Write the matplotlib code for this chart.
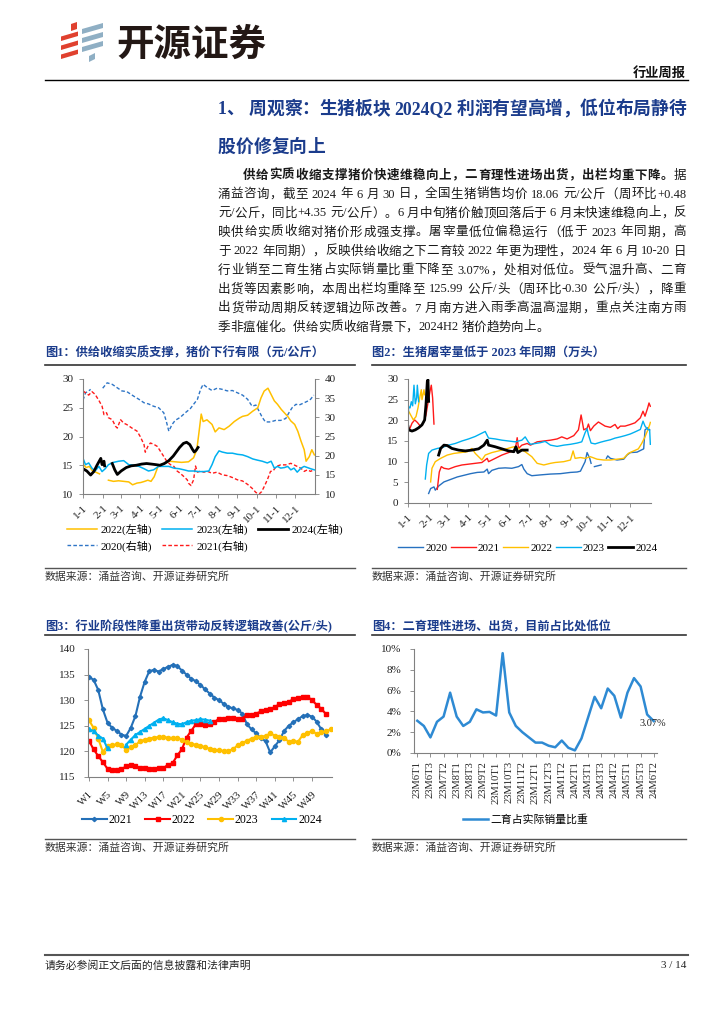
import numpy as np
import matplotlib
matplotlib.use('Agg')
import matplotlib.pyplot as plt
from matplotlib.lines import Line2D
from matplotlib.patches import Polygon
from matplotlib.ticker import FuncFormatter

CJK = ['Liberation Serif', 'Noto Sans CJK SC']
plt.rcParams['font.family'] = CJK
plt.rcParams['axes.unicode_minus'] = False
nan = np.nan

NAVY = '#1B3C8C'
W, H = 724, 1024

# ---------------- data ----------------
months = ['1-1', '2-1', '3-1', '4-1', '5-1', '6-1', '7-1', '8-1', '9-1', '10-1', '11-1', '12-1']
month_start = [0, 31, 59, 90, 120, 151, 181, 212, 243, 273, 304, 334]

# fig1: pig price (yuan/kg), 2022-2024 left axis, 2020-2021 right axis
p2024_day = [0, 6, 12, 17, 22, 28, 30, 33, 34, 40, 46, 50, 54, 60, 68, 76, 84, 92, 100, 108,
             115, 121, 128, 135, 142, 148, 152, 158, 163, 168, 172, 175, 178, 181]
p2024_val = [14.4, 14.0, 13.3, 13.9, 15.0, 16.2, 15.1, 15.7, 14.9, nan, 15.3, 14.2, 13.4, 14.0, 14.6, 14.9, 15.0, 15.2, 15.3, 15.2,
             15.1, 15.0, 15.3, 15.8, 16.6, 17.5, 18.1, 18.8, 19.0, 18.6, 17.8, 17.3, 17.6, 18.1]
p2022_day = [0, 5, 10, 15, 20, 26, 33, 40, 48, 56, 64, 72, 78, 85, 91, 97, 102, 107, 112, 118,
             124, 130, 136, 145, 155, 166, 174, 179, 182, 186, 189, 195, 203, 208, 214, 222, 230, 238, 246, 251,
             259, 267, 275, 280, 285, 291, 296, 301, 306, 312, 317, 322, 327, 333, 338, 343, 348, 351, 356, 360, 364]
p2022_val = [15.2, 14.6, 14.8, 14.0, 13.8, 13.5, nan, 12.4, 12.2, 12.3, 12.2, 12.1, 11.6, 11.9, 12.0, 12.2, 12.4, 12.2, 13.0, 14.8,
             15.2, 15.4, 15.7, 15.6, 15.5, 15.6, 16.3, 17.7, 20.3, 23.9, 22.6, 22.9, 22.1, 20.8, 21.5, 21.2, 21.8, 22.6, 23.2, 23.5,
             23.7, 24.4, 25.0, 26.7, 27.9, 28.4, 27.3, 26.2, 25.6, 24.7, 24.1, 23.5, 22.7, 22.1, 20.9, 19.2, 17.7, 15.7, 16.5, 17.7, 16.8]
p2023_day = [0, 4, 9, 14, 19, 25, 30, 35, 40, 48, 56, 64, 72, 80, 88, 96, 103, 111, 119, 127,
             135, 143, 151, 159, 166, 174, 182, 190, 198, 203, 208, 214, 219, 227, 235, 243, 251, 259, 267, 274,
             282, 290, 296, 301, 306, 311, 317, 322, 327, 332, 337, 343, 348, 353, 358, 364]
p2023_val = [16.2, 15.1, 15.4, 14.5, 14.0, 14.8, 13.9, 14.4, 15.1, 15.5, 15.7, 15.8, 15.1, 15.0, 14.8, 14.4, 14.0, 14.2, 14.8, 14.8,
             14.8, 14.5, 14.4, 14.2, 14.0, 14.0, 13.9, 13.9, 14.0, 15.1, 16.5, 17.5, 17.3, 17.1, 17.1, 16.9, 16.8, 16.5, 16.1, 15.9,
             15.7, 15.4, 15.7, 14.5, 14.8, 14.5, 14.6, 14.8, 14.2, 14.5, 13.8, 14.5, 14.8, 14.6, 14.4, 14.2]
p2020_day = [0, 4, 9, 12, 20, 31, 38, 46, 54, 61, 69, 80, 88, 96, 103, 111, 119, 127, 131, 135,
             140, 145, 153, 161, 169, 174, 180, 185, 189, 196, 203, 211, 219, 227, 235, 243, 251, 259, 266, 272,
             277, 282, 287, 295, 303, 311, 319, 324, 329, 335, 340, 348, 353, 358, 363]
p2020_val = [34.5, 36.4, 36.9, 37.3, nan, 37.6, 39.0, 38.6, 37.7, 36.9, 36.7, 35.5, 34.7, 33.8, 33.5, 32.9, 32.5, 31.2, 29.0, 26.4,
             28.1, 29.2, 30.0, 31.2, 32.3, 33.4, 34.7, 37.3, 38.6, 37.7, 37.0, 37.6, 37.3, 36.9, 37.0, 36.4, 35.8, 34.7, 32.9, 33.2,
             31.6, 30.0, 28.8, 28.8, 29.2, 29.2, 29.7, 31.2, 32.5, 33.4, 33.2, 33.8, 34.2, 34.7, 35.8]
p2021_day = [0, 4, 9, 14, 19, 25, 30, 33, 37, 40, 46, 51, 54, 59, 64, 69, 77, 85, 90, 96,
             98, 102, 106, 111, 117, 122, 127, 132, 138, 143, 148, 153, 159, 164, 166, 170, 174, 177, 180, 185,
             190, 196, 203, 211, 219, 227, 235, 243, 251, 259, 266, 272, 277, 281, 285, 290, 295, 299, 304, 311,
             319, 327, 332, 337, 343, 348, 353, 358, 363]
p2021_val = [36.9, 36.4, 35.8, 36.7, 36.0, 34.4, 32.9, 30.7, 31.2, 29.9, 29.4, 27.7, 27.2, 29.4, 28.5, 28.1, 27.2, 26.4, 25.0, 22.9,
             20.9, 22.4, 23.3, 23.0, 22.4, 21.1, 19.8, 18.5, 17.6, 17.2, 16.0, 15.4, 14.5, 13.7, 12.8, 12.2, 13.7, 17.3, 15.7, 16.0,
             15.7, 15.9, 15.4, 15.7, 15.0, 14.8, 14.3, 13.7, 13.4, 12.5, 11.5, 10.4, 10.0, 10.6, 11.9, 13.7, 15.9, 16.0, 17.2, 17.6,
             17.6, 18.0, 17.6, 17.2, 16.7, 15.9, 16.3, 15.9, 16.3]

# fig2: daily slaughter (10k head)
s2020_day = [31, 34, 39, 41, 46, 54, 64, 74, 84, 94, 104, 114, 119, 121, 126, 136, 146, 156, 166, 171,
             174, 179, 186, 199, 214, 229, 244, 254, 259, 266, 269, 273, 275, 277, 280, 290, 294, 298, 300, 304,
             314, 324, 329, 334, 344, 349, 354, 356, 360, 363]
s2020_val = [2.3, 3.5, 3.9, 3.1, 4.1, 5.1, 5.7, 6.3, 6.7, 7.1, 7.4, 7.5, 8.2, 7.1, 7.9, 8.4, 8.5, 8.4, 8.8, 9.3,
             8.2, 7.1, 6.6, 6.8, 7.0, 7.1, 7.4, 7.5, 7.7, 10.0, 12.2, 10.8, 9.6, nan, 8.8, 9.2, nan, 10.8, 11.4, 10.8,
             10.4, 10.6, 11.6, 12.2, 12.3, 12.7, 13.1, 17.7, 18.2, 17.7]
s2021_day = [0, 2, 6, 10, 14, 19, 24, 27, 30, 33, 35, 37, 39, 41, 44, 47, 50, 54, 61, 71,
             81, 91, 101, 111, 119, 121, 131, 141, 151, 161, 164, 166, 171, 179, 184, 194, 204, 214, 224, 231,
             239, 249, 256, 260, 264, 269, 271, 274, 279, 286, 291, 296, 304, 311, 315, 319, 326, 334, 341, 349,
             353, 356, 360, 362, 364]
s2021_val = [18.5, 17.7, 19.3, 20.1, 19.5, 18.5, 19.7, 21.3, 24.2, 27.0, 28.5, 25.4, 19.1, nan, 3.3, 7.5, 8.8, 8.4, 8.2, 8.8,
             9.2, 9.4, 9.6, 9.8, 10.8, 10.0, 10.8, 11.6, 12.2, 12.8, 15.8, 13.2, 14.0, 14.4, 14.0, 14.8, 15.0, 15.2, 15.5, 16.0,
             15.5, 16.3, 17.7, 21.3, 17.7, 18.1, 19.1, 17.5, 18.6, 19.6, 19.1, 18.6, 18.3, 19.0, 18.0, 18.6, 18.6, 19.0, 19.4, 20.6,
             22.2, 21.0, 23.0, 24.2, 23.4]
s2022_day = [0, 4, 8, 12, 15, 18, 20, 21, 24, 25, 29, 34, 36, 41, 49, 59, 69, 79, 89, 96,
             101, 111, 116, 126, 136, 146, 154, 159, 166, 176, 186, 194, 204, 214, 221, 234, 244, 248, 251, 259,
             266, 274, 284, 294, 304, 314, 324, 331, 339, 346, 351, 356, 360, 363, 364]
s2022_val = [22.5, 21.3, 20.1, 20.9, 23.0, 25.8, 27.4, 25.0, 27.4, 26.2, nan, 5.1, 8.4, 10.0, 10.8, 11.6, 12.0, 12.2, 12.4, 13.2,
             12.0, 10.4, 11.6, 12.2, 12.6, 13.0, 13.4, 13.6, 13.2, 12.4, 11.2, 9.6, 9.2, 9.6, 9.8, 10.0, 10.4, 12.6, 10.8, 11.0,
             10.8, 11.2, 10.6, 10.4, 10.4, 10.6, 10.8, 12.0, 12.6, 13.1, 14.4, 16.0, 17.6, 18.9, 19.5]
s2023_day = [0, 1, 3, 5, 7, 9, 11, 13, 14, 16, 20, 26, 28, 31, 36, 44, 51, 61, 71, 81,
             91, 101, 111, 116, 121, 131, 141, 151, 161, 171, 176, 181, 184, 199, 206, 214, 224, 234, 244, 254,
             261, 266, 269, 271, 275, 281, 289, 296, 304, 311, 319, 326, 334, 341, 349, 353, 356, 360, 363, 364]
s2023_val = [19.5, 23.3, 23.0, 24.5, 23.5, 28.5, 24.0, 25.5, 28.5, 24.5, nan, 5.8, 9.2, 12.0, 12.8, 13.2, 13.4, 14.0, 14.4, 15.0,
             15.5, 16.1, 16.9, 17.3, 15.7, 15.5, 15.2, 15.0, 14.8, 15.2, 16.0, 14.7, 14.2, 14.6, 14.9, 14.0, 13.7, 14.0, 14.2, 14.5,
             14.8, 17.0, 18.0, 16.5, 14.5, 14.3, 14.7, 15.0, 15.3, 15.7, 16.0, 16.3, 16.7, 17.2, 17.8, 19.8, 18.6, 17.8, 17.6, 14.2]
s2024_day = [0, 1, 6, 11, 16, 21, 25, 27, 29, 30, 31, 38, 46, 49, 54, 59, 66, 76, 86, 96,
             106, 114, 119, 121, 131, 141, 151, 159, 162, 165, 171, 179]
s2024_val = [18.5, 17.7, 17.4, 17.7, 18.2, 18.9, 20.1, 23.8, 29.4, 29.8, 24.6, nan, 11.6, 13.2, 14.0, 13.9, 13.2, 12.8, 12.6, 12.8,
             13.1, 14.0, 15.2, 14.0, 13.6, 13.1, 12.6, 12.4, 13.6, 12.2, 12.8, 12.8]

# fig3: weekly average slaughter weight (kg/head)
weeks = ['W%d' % i for i in range(1, 54)]
w2021 = [134.5, 134.0, 132.0, 128.2, 125.6, 124.6, 124.0, 123.3, 123.0, 124.6,
         126.9, 130.7, 133.6, 135.7, 135.9, 135.6, 136.1, 136.5, 136.9, 136.7,
         135.8, 135.0, 134.2, 133.7, 133.0, 132.1, 131.3, 130.5, 130.0, 129.3,
         128.7, 128.4, 128.1, 127.4, 125.3, 124.3, 123.5, 122.6, 122.0, 119.8,
         121.0, 122.2, 124.0, 125.0, 125.7, 126.3, 126.9, 127.1, 126.8, 125.8,
         124.3, 123.2]
w2022 = [122.1, 120.4, 119.1, 117.9, 116.6, 116.3, 116.3, 116.5, 117.1, 117.3,
         117.1, 116.8, 116.7, 116.6, 116.6, 116.8, 116.7, 117.4, 117.7, 119.2,
         120.4, 122.7, 124.0, 125.3, 125.3, 125.2, 125.3, 125.7, 126.4, 126.4,
         126.6, 126.5, 126.3, 126.4, 127.2, 127.2, 127.4, 127.8, 128.0, 128.2,
         128.7, 129.2, 129.4, 129.7, 130.2, 130.4, 130.6, 130.7, 130.0, 129.1,
         128.3, 127.3]
w2023 = [126.1, 124.6, 122.5, 119.9, 121.0, 121.2, 121.4, 121.3, 120.3, 120.8,
         121.2, 122.0, 122.3, 122.5, 122.7, 122.8, 122.8, 122.7, 122.6, 122.6,
         122.3, 121.8, 121.5, 121.3, 121.1, 120.8, 120.5, 120.3, 120.2, 120.1,
         120.1, 120.4, 121.2, 121.6, 122.1, 122.5, 122.8, 122.9, 123.0, 123.5,
         123.1, 122.9, 122.6, 121.9, 122.0, 121.9, 123.2, 123.6, 124.0, 123.4,
         123.7, 123.9, 124.3]
w2024 = [124.3, 124.0, 123.1, 122.5, 120.6, nan, nan, nan, 121.3, 122.3,
         123.2, 123.8, 124.4, 125.0, 125.6, 126.2, 126.5, 126.1, 125.7, 125.4,
         125.3, 125.7, 126.0, 126.1, 126.3, 126.2, 126.0]

# fig4: share of secondary-fattening pigs in actual sales (%)
periods = ['23M6T1', '23M6T2', '23M6T3', '23M7T1', '23M7T2', '23M7T3', '23M8T1', '23M8T2', '23M8T3',
           '23M9T1', '23M9T2', '23M9T3', '23M10T1', '23M10T2', '23M10T3', '23M11T1', '23M11T2', '23M11T3',
           '23M12T1', '23M12T2', '23M12T3', '24M1T1', '24M1T2', '24M1T3', '24M2T1', '24M2T3', '24M3T1',
           '24M3T2', '24M3T3', '24M4T1', '24M4T2', '24M4T3', '24M5T1', '24M5T2', '24M5T3', '24M6T1', '24M6T2']
share = [3.1, 2.6, 1.5, 3.0, 3.5, 5.8, 3.5, 2.6, 3.0, 4.2,
         3.9, 3.95, 3.6, 9.6, 3.9, 2.6, 2.0, 1.5, 1.0, 1.0,
         0.7, 0.55, 1.2, 0.5, 0.25, 1.4, 3.4, 5.4, 4.3, 6.2,
         5.5, 3.4, 5.8, 7.2, 6.4, 3.7, 3.07]

body = [
    [('供给实质收缩支撑猪价快速维稳向上，二育理性进场出货，出栏均重下降。', 'bold'), ('据', 'normal')],
    [('涌益咨询，截至 2024 年 6 月 30 日，全国生猪销售均价 18.06 元/公斤（周环比+0.48', 'normal')],
    [('元/公斤，同比+4.35 元/公斤）。6 月中旬猪价触顶回落后于 6 月末快速维稳向上，反', 'normal')],
    [('映供给实质收缩对猪价形成强支撑。屠宰量低位偏稳运行（低于 2023 年同期，高', 'normal')],
    [('于 2022 年同期），反映供给收缩之下二育较 2022 年更为理性，2024 年 6 月 10-20 日', 'normal')],
    [('行业销至二育生猪占实际销量比重下降至 3.07%，处相对低位。受气温升高、二育', 'normal')],
    [('出货等因素影响，本周出栏均重降至 125.99 公斤/头（周环比-0.30 公斤/头），降重', 'normal')],
    [('出货带动周期反转逻辑边际改善。7 月南方进入雨季高温高湿期，重点关注南方雨', 'normal')],
    [('季非瘟催化。供给实质收缩背景下，2024H2 猪价趋势向上。', 'normal')],
]

# ---------------- page ----------------
fig = plt.figure(figsize=(7.24, 10.24), dpi=100)
renderer = fig.canvas.get_renderer()


def fx(px):
    return px / W


def fy(py):
    return 1 - py / H


def hline(y, x0, x1, color='#333333', lw=1.0):
    fig.add_artist(Line2D([fx(x0), fx(x1)], [fy(y), fy(y)], transform=fig.transFigure, color=color, lw=lw))


def text_line(yb, parts, x0, x1, size, color, justify=True):
    toks = []
    for s, wgt in parts:
        buf = ''
        for ch in s:
            if ch == ' ' or ord(ch) >= 128:
                if buf:
                    toks.append((buf, wgt))
                    buf = ''
                toks.append((ch, wgt))
            else:
                buf += ch
        if buf:
            toks.append((buf, wgt))
    widths = []
    for t, wgt in toks:
        if t == ' ':
            widths.append(size * 100 / 72 * 0.25)
        else:
            tt = fig.text(0, 0, t, fontsize=size, weight=wgt, family=CJK)
            widths.append(tt.get_window_extent(renderer).width)
            tt.remove()
    gap = 0
    if justify and len(toks) > 1:
        gap = (x1 - x0 - sum(widths)) / (len(toks) - 1)
    x = x0
    for (t, wgt), wd in zip(toks, widths):
        if t != ' ':
            fig.text(fx(x), fy(yb), t, fontsize=size, weight=wgt, family=CJK, color=color,
                     ha='left', va='baseline')
        x += wd + gap


def para(x0, y0, w, h, rise, color):
    pts = [(x0, y0), (x0 + w, y0 - rise), (x0 + w, y0 - rise - h), (x0, y0 - h)]
    fig.add_artist(Polygon([(fx(a), fy(b)) for a, b in pts], closed=True, transform=fig.transFigure,
                           facecolor=color, edgecolor='none'))


# logo
for yb in [41, 50, 59]:
    para(61, yb, 17, 4.5, 5, '#E0412F')
para(71, 31, 6, 7, 2, '#E0412F')
for yb in [34, 43, 52]:
    para(82, yb, 21, 5, 6, '#8FAFC4')
para(89, 62, 6, 6, 3, '#8FAFC4')
fig.text(fx(116), fy(44), '开源证券', fontsize=27, weight='bold', family=['Noto Sans CJK SC'],
         color='#231815', va='center', ha='left')
fig.text(fx(686), fy(73), '行业周报', fontsize=9.5, weight='bold', family=['Noto Sans CJK SC'],
         color='#111111', va='center', ha='right')
hline(80, 45, 688, color='#000000', lw=1.0)

# heading
text_line(114, [('1、 周观察：生猪板块 2024Q2 利润有望高增，低位布局静待', 'bold')], 218, 686, 12.8, NAVY)
text_line(152, [('股价修复向上', 'bold')], 218, 686, 12.8, NAVY, justify=False)

# body
for i, parts in enumerate(body):
    yb = 178.5 + 19 * i
    x0 = 243 if i == 0 else 218
    text_line(yb, parts, x0, 686, 9.0, '#1a1a1a', justify=(i < len(body) - 1))

# chart frames
titles = [('图1：供给收缩实质支撑，猪价下行有限（元/公斤）', 45, 353),
          ('图2：生猪屠宰量低于 2023 年同期（万头）', 372, 353),
          ('图3：行业阶段性降重出货带动反转逻辑改善(公斤/头)', 45, 627),
          ('图4：二育理性进场、出货，目前占比处低位', 372, 627)]
for t, x, y in titles:
    fig.text(fx(x), fy(y), t, fontsize=8.8, weight='bold', family=CJK, color=NAVY, va='center', ha='left')
for y in [365, 635]:
    hline(y, 45, 355, '#333333', 1.2)
    hline(y, 372, 686, '#333333', 1.2)
for y in [568, 839]:
    hline(y, 45, 355, '#555555', 1.0)
    hline(y, 372, 686, '#555555', 1.0)
for x, y in [(45, 577), (372, 577), (45, 848), (372, 848)]:
    fig.text(fx(x), fy(y), '数据来源：涌益咨询、开源证券研究所', fontsize=7.8, family=CJK,
             color='#333333', va='center', ha='left')

# footer
hline(955, 45, 688, '#555555', 1.5)
fig.text(fx(45), fy(966), '请务必参阅正文后面的信息披露和法律声明', fontsize=7.8, family=CJK,
         color='#222222', va='center', ha='left')
fig.text(fx(686), fy(966), '3 / 14', fontsize=8, family=CJK, color='#222222', va='center', ha='right')


def axrect(l, t, r, b):
    return [fx(l), fy(b), (r - l) / W, (b - t) / H]


def style(ax, labelsize=8, pad=4):
    for s in ['top', 'right']:
        ax.spines[s].set_visible(False)
    for s in ['left', 'bottom']:
        ax.spines[s].set_color('#808080')
        ax.spines[s].set_linewidth(0.8)
    ax.tick_params(direction='out', length=3, width=0.6, color='#808080', labelsize=labelsize,
                   pad=pad, labelcolor='#222222')
    ax.patch.set_visible(False)


# ---- chart 1 ----
ax1 = fig.add_axes(axrect(83, 379, 315, 494))
ax1r = ax1.twinx()
style(ax1)
style(ax1r)
ax1r.spines['right'].set_visible(True)
ax1r.spines['right'].set_color('#808080')
ax1r.spines['right'].set_linewidth(0.8)
ax1r.spines['left'].set_visible(False)
ax1r.spines['bottom'].set_visible(False)
ax1.set_zorder(ax1r.get_zorder() + 1)

dash = (0, (2.6, 1.6))
h20, = ax1r.plot(p2020_day, p2020_val, color='#2E75C6', lw=1.0, ls=dash)
h21, = ax1r.plot(p2021_day, p2021_val, color='#FF1A1A', lw=1.0, ls=dash)
h22, = ax1.plot(p2022_day, p2022_val, color='#FFC000', lw=1.1)
h23, = ax1.plot(p2023_day, p2023_val, color='#00B0F0', lw=1.1)
h24, = ax1.plot(p2024_day, p2024_val, color='black', lw=2.0)
ax1.set_xlim(0, 365)
ax1.set_ylim(10, 30)
ax1.set_yticks([10, 15, 20, 25, 30])
ax1r.set_ylim(10, 40)
ax1r.set_yticks([10, 15, 20, 25, 30, 35, 40])
ax1.set_xticks(month_start)
ax1.set_xticklabels(months, rotation=45, ha='right', va='top', rotation_mode='anchor')
fig.legend([h22, h20, h23, h21, h24], ['2022(左轴)', '2020(右轴)', '2023(左轴)', '2021(右轴)', '2024(左轴)'],
           loc='upper left', bbox_to_anchor=(fx(67), fy(524)), bbox_transform=fig.transFigure,
           ncol=3, frameon=False, fontsize=8, handlelength=2.7, handletextpad=0.35,
           columnspacing=0.9, labelspacing=0.45, borderpad=0, borderaxespad=0)

# ---- chart 2 ----
ax2 = fig.add_axes(axrect(408, 379, 651, 503))
style(ax2)
g20, = ax2.plot(s2020_day, s2020_val, color='#2771C0', lw=1.0)
g21, = ax2.plot(s2021_day, s2021_val, color='#FF1A1A', lw=1.0)
g22, = ax2.plot(s2022_day, s2022_val, color='#FFC000', lw=1.0)
g23, = ax2.plot(s2023_day, s2023_val, color='#00B0F0', lw=1.0)
g24, = ax2.plot(s2024_day, s2024_val, color='black', lw=2.0)
ax2.set_xlim(0, 365)
ax2.set_ylim(0, 30)
ax2.set_yticks([0, 5, 10, 15, 20, 25, 30])
ax2.set_xticks(month_start)
ax2.set_xticklabels(months, rotation=45, ha='right', va='top', rotation_mode='anchor')
fig.legend([g20, g21, g22, g23, g24], ['2020', '2021', '2022', '2023', '2024'],
           loc='upper left', bbox_to_anchor=(fx(398), fy(543)), bbox_transform=fig.transFigure,
           ncol=5, frameon=False, fontsize=8, handlelength=2.25, handletextpad=0.2,
           columnspacing=0.3, borderpad=0, borderaxespad=0)

# ---- chart 3 ----
ax3 = fig.add_axes(axrect(88, 649, 332, 777))
style(ax3, pad=6)
xw = np.arange(1, 54)
k21, = ax3.plot(xw[:len(w2021)], w2021, color='#2470B8', lw=1.5, marker='D', ms=2.2)
k22, = ax3.plot(xw[:len(w2022)], w2022, color='#FF0000', lw=1.5, marker='s', ms=3.2)
k23, = ax3.plot(xw[:len(w2023)], w2023, color='#FFC000', lw=1.5, marker='o', ms=3.0)
k24, = ax3.plot(xw[:len(w2024)], w2024, color='#00B0F0', lw=1.5, marker='^', ms=3.0)
ax3.set_xlim(0.8, 53.3)
ax3.set_ylim(115, 140)
ax3.set_yticks([115, 120, 125, 130, 135, 140])
ax3.set_xticks(xw[:49:4])
ax3.set_xticklabels(weeks[:49:4], rotation=45, ha='right', va='top', rotation_mode='anchor', fontsize=8)
fig.legend([k21, k22, k23, k24], ['2021', '2022', '2023', '2024'],
           loc='upper left', bbox_to_anchor=(fx(82), fy(814)), bbox_transform=fig.transFigure,
           ncol=4, frameon=False, fontsize=8.5, handlelength=2.1, handletextpad=0.15,
           columnspacing=1.1, borderpad=0, borderaxespad=0)

# ---- chart 4 ----
ax4 = fig.add_axes(axrect(414, 649, 657, 753))
style(ax4, pad=6)
xp = np.arange(len(share))
m4, = ax4.plot(xp, share, color='#2E8AD3', lw=1.8)
ax4.set_xlim(-0.5, len(share) - 0.5)
ax4.set_ylim(0, 10)
ax4.set_yticks([0, 2, 4, 6, 8, 10])
ax4.yaxis.set_major_formatter(FuncFormatter(lambda v, p: '%d%%' % v))
ax4.set_xticks(xp[::2])
ax4.set_xticklabels(periods[::2], rotation=90, ha='center', va='top', fontsize=7.6)
ax4.tick_params(axis='x', pad=3)
ax4.text(xp[-1] - 0.1, share[-1] - 0.2, '%.2f%%' % share[-1], fontsize=7.5, ha='center', va='center',
         color='#222222')
fig.legend([m4], ['二育占实际销量比重'],
           loc='upper left', bbox_to_anchor=(fx(463), fy(814)), bbox_transform=fig.transFigure,
           frameon=False, fontsize=7.8, handlelength=2.3, handletextpad=0.2, borderpad=0, borderaxespad=0)

fig.savefig('out.png', dpi=100)
